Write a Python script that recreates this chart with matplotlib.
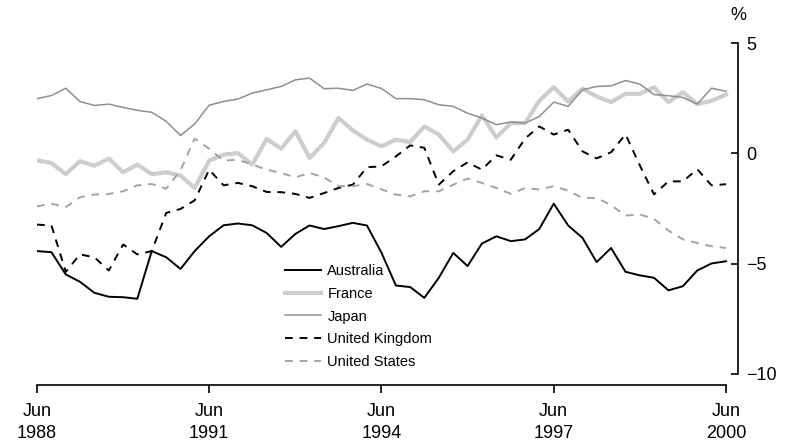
import matplotlib
matplotlib.use("Agg")
import matplotlib.pyplot as plt
import matplotlib.dates as mdates
import numpy as np
import pandas as pd

plt.rcParams["font.family"] = ["Liberation Sans", "DejaVu Sans"]

# Quarterly observations, Jun 1988 - Jun 2000
quarters = pd.date_range("1988-06-01", "2000-06-01", freq="3MS")

australia = [-4.43, -4.48, -5.49, -5.82, -6.32, -6.50, -6.52, -6.59, -4.43, -4.71,
             -5.24, -4.43, -3.76, -3.26, -3.18, -3.26, -3.61, -4.24, -3.65, -3.27,
             -3.43, -3.30, -3.15, -3.27, -4.50, -5.99, -6.06, -6.55, -5.64, -4.51,
             -5.11, -4.09, -3.76, -3.98, -3.90, -3.43, -2.28, -3.27, -3.83, -4.93,
             -4.29, -5.37, -5.53, -5.64, -6.21, -6.02, -5.31, -4.99, -4.89]
france = [-0.32, -0.44, -0.94, -0.36, -0.56, -0.24, -0.86, -0.51, -0.94, -0.86,
          -1.01, -1.57, -0.33, -0.06, 0.01, -0.51, 0.65, 0.21, 1.00, -0.21,
          0.47, 1.60, 1.04, 0.62, 0.32, 0.62, 0.51, 1.22, 0.85, 0.09,
          0.62, 1.72, 0.72, 1.37, 1.37, 2.38, 3.00, 2.35, 2.93, 2.58,
          2.32, 2.70, 2.70, 2.99, 2.32, 2.77, 2.23, 2.38, 2.66]
japan = [2.48, 2.62, 2.95, 2.35, 2.17, 2.23, 2.08, 1.95, 1.86, 1.45,
         0.81, 1.33, 2.18, 2.35, 2.46, 2.73, 2.88, 3.03, 3.33, 3.41,
         2.93, 2.95, 2.85, 3.14, 2.94, 2.48, 2.48, 2.43, 2.20, 2.13,
         1.82, 1.60, 1.30, 1.42, 1.37, 1.67, 2.32, 2.13, 2.88, 3.03,
         3.06, 3.30, 3.14, 2.66, 2.61, 2.53, 2.23, 2.95, 2.81]
united_kingdom = [-3.23, -3.27, -5.37, -4.58, -4.71, -5.31, -4.13, -4.58, -4.43, -2.70,
                  -2.52, -2.13, -0.74, -1.45, -1.34, -1.49, -1.75, -1.76, -1.84, -2.02,
                  -1.80, -1.57, -1.42, -0.63, -0.59, -0.14, 0.36, 0.25, -1.42, -0.81,
                  -0.41, -0.74, -0.09, -0.29, 0.67, 1.22, 0.85, 1.07, 0.09, -0.23,
                  0.05, 0.86, -0.55, -1.86, -1.27, -1.27, -0.72, -1.45, -1.40]
united_states = [-2.40, -2.28, -2.44, -1.99, -1.87, -1.84, -1.72, -1.45, -1.39, -1.60,
                 -0.77, 0.67, 0.21, -0.33, -0.29, -0.51, -0.74, -0.89, -1.09, -0.89,
                 -1.09, -1.49, -1.49, -1.39, -1.63, -1.87, -1.95, -1.72, -1.72, -1.42,
                 -1.14, -1.34, -1.57, -1.84, -1.57, -1.64, -1.49, -1.69, -2.02, -2.02,
                 -2.35, -2.82, -2.77, -2.97, -3.50, -3.90, -4.06, -4.21, -4.29]

tick_dates = pd.to_datetime(["1988-06-01", "1991-06-01", "1994-06-01", "1997-06-01", "2000-06-01"])
tick_labels = ["Jun\n1988", "Jun\n1991", "Jun\n1994", "Jun\n1997", "Jun\n2000"]
y_ticks = [5, 0, -5, -10]

W, H = 789, 443
fig = plt.figure(figsize=(W / 100, H / 100), dpi=100)
ax = fig.add_axes([37 / W, 1 - 374 / H, (738 - 37) / W, (374 - 43) / H])

ax.plot(quarters, australia, color="black", lw=1.4, label="Australia")
ax.plot(quarters, france, color="#cdcdcd", lw=3.0, label="France")
ax.plot(quarters, japan, color="#8f8f8f", lw=1.1, label="Japan")
ax.plot(quarters, united_kingdom, color="black", lw=1.4, dashes=(4, 3.5), label="United Kingdom")
ax.plot(quarters, united_states, color="#a3a3a3", lw=1.4, dashes=(4, 3.5), label="United States")

x0 = mdates.date2num(quarters[0])
x1 = mdates.date2num(quarters[-1])
ax.set_xlim(x0, x0 + (x1 - x0) * 701 / 689)
ax.set_ylim(-10, 5)

for side in ["top", "left"]:
    ax.spines[side].set_visible(False)
ax.spines["bottom"].set_position(("outward", 8))
ax.spines["bottom"].set_bounds(x0, x1)
ax.spines["right"].set_bounds(-10, 5)
ax.spines["bottom"].set_linewidth(1.2)
ax.spines["right"].set_linewidth(1.2)

ax.set_xticks(tick_dates)
ax.set_xticklabels(tick_labels, fontsize=13, linespacing=1.4)
ax.tick_params(axis="x", direction="out", length=6, width=1.2, pad=7)

ax.yaxis.tick_right()
ax.set_yticks(y_ticks)
ax.set_yticklabels([str(v).replace("-", "\u2212") for v in y_ticks], fontsize=13)
ax.tick_params(axis="y", direction="in", length=5, width=1.2, pad=6)

ax.annotate("%", xy=(1.0, 1.0), xycoords="axes fraction", xytext=(0, 14),
            textcoords="offset points", ha="center", va="bottom", fontsize=13)

ax.legend(loc="upper left", bbox_to_anchor=(285 / W, 1 - 264 / H),
          bbox_transform=fig.transFigure, frameon=False, fontsize=10.5,
          handlelength=2.5, handletextpad=0.4, labelspacing=0.6, borderpad=0,
          borderaxespad=0)

fig.savefig("out.png", dpi=100)
